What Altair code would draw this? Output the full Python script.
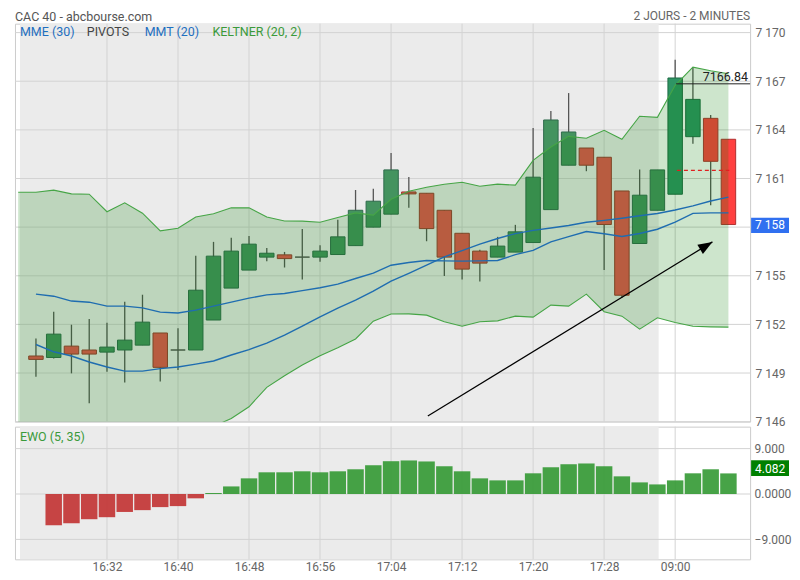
import altair as alt
import pandas as pd

# ---------------- texts ----------------
title_left = "CAC 40 - abcbourse.com"
title_right = "2 JOURS - 2 MINUTES"
legend_items = ["MME (30)", "PIVOTS", "MMT (20)", "KELTNER (20, 2)"]
ewo_title = "EWO (5, 35)"

# ---------------- axes ----------------
x_tick_idx = [4, 8, 12, 16, 20, 24, 28, 32, 36]
x_tick_labels = ["16:32", "16:40", "16:48", "16:56", "17:04", "17:12", "17:20", "17:28", "09:00"]
y_ticks = [7146, 7149, 7152, 7155, 7158, 7161, 7164, 7167, 7170]
ewo_ticks = [-9, 0, 9]

# ---------------- candles (2-minute) ----------------
candle_idx = list(range(40))
opens = [7150.05, 7149.96, 7150.66, 7150.42, 7150.29, 7150.42, 7150.72, 7151.47, 7150.42, 7150.42,
         7152.27, 7154.24, 7155.35, 7156.15, 7156.29, 7156.15, 7156.15, 7156.31, 7156.86, 7158.00,
         7158.80, 7160.17, 7160.09, 7159.04, 7157.62, 7156.52, 7156.15, 7156.46, 7157.05, 7159.08,
         7161.82, 7162.88, 7162.31, 7160.23, 7156.99, 7159.04, 7160.03, 7163.58, 7164.71, 7163.42]
highs = [7151.13, 7152.78, 7151.98, 7152.33, 7152.10, 7153.39, 7153.83, 7151.47, 7151.77, 7156.23,
         7157.09, 7157.34, 7157.46, 7156.72, 7156.47, 7157.89, 7156.89, 7158.45, 7160.29, 7160.36,
         7162.57, 7161.10, 7160.09, 7159.04, 7157.62, 7156.60, 7157.40, 7158.14, 7164.11, 7165.16,
         7166.27, 7162.88, 7162.31, 7160.23, 7161.55, 7161.53, 7168.32, 7167.87, 7164.92, 7163.42]
lows = [7148.77, 7149.90, 7148.98, 7147.13, 7149.08, 7148.42, 7150.72, 7148.48, 7149.18, 7150.42,
        7152.27, 7154.24, 7155.35, 7155.90, 7155.51, 7154.77, 7155.86, 7156.31, 7156.86, 7158.00,
        7158.80, 7159.20, 7157.13, 7154.98, 7154.77, 7154.65, 7156.15, 7156.46, 7157.05, 7159.08,
        7161.82, 7161.45, 7155.35, 7153.64, 7156.99, 7159.04, 7160.03, 7163.15, 7159.35, 7158.16]
closes = [7149.84, 7151.40, 7150.17, 7150.17, 7150.60, 7151.03, 7152.14, 7149.35, 7150.42, 7154.11,
          7156.21, 7156.52, 7156.95, 7156.39, 7156.06, 7156.15, 7156.52, 7157.40, 7159.04, 7159.60,
          7161.53, 7160.05, 7157.91, 7156.15, 7155.41, 7155.78, 7156.83, 7157.71, 7161.08, 7164.61,
          7163.87, 7161.82, 7158.16, 7153.80, 7159.97, 7161.53, 7167.20, 7165.88, 7162.06, 7158.16]
first_today = 36
prev_session_end = 35.07

# ---------------- moving averages ----------------
mme30 = [7153.87, 7153.74, 7153.44, 7153.37, 7153.13, 7153.13, 7153.02, 7152.76, 7152.70, 7152.88,
         7153.13, 7153.37, 7153.62, 7153.82, 7153.91, 7154.08, 7154.26, 7154.48, 7154.83, 7155.16,
         7155.65, 7155.82, 7155.94, 7155.92, 7155.90, 7155.92, 7155.94, 7156.30, 7156.57, 7157.09,
         7157.41, 7157.73, 7157.59, 7157.42, 7157.61, 7157.87, 7158.31, 7158.85, 7158.88, 7158.88]
mmt20 = [7150.76, 7150.31, 7150.05, 7149.68, 7149.37, 7149.12, 7149.12, 7149.27, 7149.37, 7149.55,
         7149.74, 7150.11, 7150.44, 7150.85, 7151.34, 7151.90, 7152.47, 7153.00, 7153.50, 7154.05,
         7154.67, 7155.15, 7155.65, 7156.17, 7156.55, 7156.95, 7157.30, 7157.60, 7157.80, 7157.95,
         7158.10, 7158.30, 7158.42, 7158.55, 7158.70, 7158.84, 7159.06, 7159.31, 7159.61, 7159.85]

# ---------------- Keltner (20, 2) ----------------
kelt_idx = list(range(-1, 40))
kelt_up = [7160.15, 7160.15, 7160.28, 7160.05, 7160.03, 7158.95, 7159.50, 7158.86, 7157.77, 7157.93,
           7158.63, 7158.82, 7159.19, 7159.19, 7158.63, 7158.38, 7158.37, 7158.30, 7158.59, 7158.88,
           7158.74, 7159.72, 7160.21, 7160.46, 7160.65, 7160.77, 7160.52, 7160.65, 7160.59, 7162.12,
           7162.94, 7163.60, 7163.48, 7163.97, 7163.42, 7164.84, 7164.77, 7166.75, 7167.87, 7167.65,
           7167.46]
kelt_lo = [7143.3, 7143.4, 7143.6, 7143.8, 7144.0, 7144.3, 7144.5, 7144.8, 7145.0, 7145.2,
           7145.4, 7145.7, 7146.2, 7146.92, 7148.12, 7148.83, 7149.49, 7150.07, 7150.56, 7151.10,
           7152.20, 7152.64, 7152.65, 7152.57, 7152.16, 7151.89, 7152.16, 7152.22, 7152.51, 7152.45,
           7153.19, 7153.13, 7153.87, 7152.78, 7152.51, 7151.71, 7152.41, 7152.12, 7151.89, 7151.85,
           7151.83]

# ---------------- annotations ----------------
ref_level = 7166.84
ref_start = 36.05
pivot_level = 7161.5
pivot_span = [36.1, 39.05]
arrow_x = [22.07, 38.1]
arrow_y = [7146.35, 7157.09]

# ---------------- EWO (5, 35) ----------------
ewo_idx = list(range(1, 40))
ewo = [-6.2, -5.8, -5.0, -4.6, -3.56, -3.2, -2.6, -2.4, -0.86, 0.2,
       1.5, 3.1, 4.3, 4.3, 4.5, 4.3, 4.5, 4.9, 5.7, 6.5,
       6.65, 6.45, 5.5, 4.5, 3.1, 2.7, 2.7, 4.1, 5.3, 5.9,
       6.05, 5.5, 3.5, 2.3, 1.9, 2.7, 4.1, 4.9, 4.082]

# ---------------- tables ----------------
def candle_colors(i, o, c):
    prev = i < first_today
    if c > o:
        return ("#44935f", "#2f6a4c") if prev else ("#2e9564", "#1f6a45")
    if c < o:
        return ("#e55450", "#9a3a30") if prev else ("#ff4040", "#b03030")
    return ("#555555", "#555555")

rows = []
for i, o, h, l, c in zip(candle_idx, opens, highs, lows, closes):
    f, s = candle_colors(i, o, c)
    rows.append({"i": i, "open": o, "high": h, "low": l, "close": c, "col": f, "scol": s})
cdf = pd.DataFrame(rows)
mdf = pd.DataFrame({"i": candle_idx, "m1": mme30, "m2": mmt20})
kdf = pd.DataFrame({"i": kelt_idx, "up": kelt_up, "lo": kelt_lo})
edf = pd.DataFrame({"i": ewo_idx, "v": ewo, "z": [0] * len(ewo),
                    "col": ["#339933" if v >= 0 else "#c23232" for v in ewo]})

W, H = 737, 399
EH = 133
FONT = "Roboto"
AX_FS = 12

last_close = closes[-1]
# the last-price badge replaces the axis label it sits on
y_label_vals = [v for v in y_ticks if abs(v - last_close) > 1]

xs = alt.Scale(domain=[-0.9, 39.94], nice=False, zero=False)
ys = alt.Scale(domain=[7146, 7170.55], nice=False, zero=False)
es = alt.Scale(domain=[-12.95, 13.35], nice=False, zero=False)

yax = alt.Axis(values=y_label_vals, orient="right", title=None, grid=False, ticks=False, domain=False,
               tickSize=0, labelPadding=5, labelFontSize=AX_FS, labelColor="#666", labelFont=FONT,
               labelExpr="replace(format(datum.value, ','), ',', ' ')")
eax = alt.Axis(values=ewo_ticks, orient="right", title=None, grid=False, ticks=False, domain=False,
               tickSize=0, labelPadding=4, labelFontSize=AX_FS, labelColor="#666", labelFont=FONT,
               labelExpr="datum.value == 0 ? '0.0000' : format(datum.value, '.3f')")
lab_arr = "[" + ",".join("'%s'" % s for s in x_tick_labels) + "]"
xax = alt.Axis(values=x_tick_idx, title=None, grid=False, ticks=False, domain=False, tickSize=0,
               labelPadding=2, labelFontSize=AX_FS, labelColor="#666", labelFont=FONT, labelFlush=False,
               labelExpr=lab_arr + "[datum.value / 4 - 1]")


def MX(f):
    return alt.X(f, type="quantitative", scale=xs, axis=None)


def MY(f):
    return alt.Y(f, type="quantitative", scale=ys, axis=yax)


def EX(f):
    return alt.X(f, type="quantitative", scale=xs, axis=xax)


def EY(f):
    return alt.Y(f, type="quantitative", scale=es, axis=eax)


def txt(s, **kw):
    return alt.Chart(pd.DataFrame({"t": [s]})).mark_text(font=FONT, **kw)


grid_col = "#d3d3d3"
bgdf = pd.DataFrame({"x0": [-0.9], "x1": [prev_session_end]})

# ---------------- main panel ----------------
bg = alt.Chart(bgdf).mark_rect(color="#ebebeb").encode(
    x=MX("x0"), x2="x1", y=alt.value(0), y2=alt.value(H))
vgrid = alt.Chart(pd.DataFrame({"t": x_tick_idx})).mark_rule(color=grid_col, strokeWidth=1).encode(
    x=MX("t"), y=alt.value(0), y2=alt.value(H))
hgrid = alt.Chart(pd.DataFrame({"v": y_ticks})).mark_rule(color=grid_col, strokeWidth=1).encode(
    y=MY("v"), x=alt.value(0), x2=alt.value(W))
wicks = alt.Chart(cdf).mark_rule(color="#555555", strokeWidth=1.3).encode(
    x=MX("i"), y=MY("low"), y2="high")
bodies = alt.Chart(cdf).mark_bar(size=14.5, strokeWidth=1).encode(
    x=MX("i"), y=MY("open"), y2="close",
    fill=alt.Fill("col:N", scale=None), stroke=alt.Stroke("scol:N", scale=None))
band = alt.Chart(kdf).mark_area(color="#057d00", opacity=0.2, clip=True).encode(
    x=MX("i"), y=MY("lo"), y2="up")
band_up = alt.Chart(kdf).mark_line(color="#46a546", strokeWidth=1.1, clip=True).encode(
    x=MX("i"), y=MY("up"))
band_lo = alt.Chart(kdf).mark_line(color="#46a546", strokeWidth=1.1, clip=True).encode(
    x=MX("i"), y=MY("lo"))
ma1 = alt.Chart(mdf).mark_line(color="#1f6db0", strokeWidth=1.4).encode(x=MX("i"), y=MY("m1"))
ma2 = alt.Chart(mdf).mark_line(color="#1f6db0", strokeWidth=1.4).encode(x=MX("i"), y=MY("m2"))
pdf = pd.DataFrame({"i": pivot_span, "v": [pivot_level] * 2})
pivot = alt.Chart(pdf).mark_line(color="#e02020", strokeDash=[4, 3], strokeWidth=1.3).encode(
    x=MX("i"), y=MY("v"))
rdf = pd.DataFrame({"x0": [ref_start], "v": [ref_level], "t": ["%.2f" % ref_level]})
ref_rule = alt.Chart(rdf).mark_rule(color="#222222", strokeWidth=1).encode(
    x=MX("x0"), x2=alt.value(W), y=MY("v"))
ref_text = alt.Chart(rdf).mark_text(font=FONT, fontSize=12.5, color="#222222", align="right",
                                    baseline="alphabetic", dy=-3).encode(
    x=alt.value(W - 2), y=MY("v"), text="t:N")
adf = pd.DataFrame({"i": arrow_x, "v": arrow_y})
arrow = alt.Chart(adf).mark_line(color="black", strokeWidth=1.2).encode(x=MX("i"), y=MY("v"))
head = alt.Chart(adf.tail(1)).mark_point(shape="M0,0L0.6,1.6L-0.6,1.6Z", size=324, filled=True,
                                         color="black", opacity=1, angle=59).encode(
    x=MX("i"), y=MY("v"))

leg_colors = ["#1f6fc0", "#444444", "#1f6fc0", "#3a9a3a"]
leg_x = [5, 72, 130, 198]
legends = [txt(s, fontSize=12.5, color=c, align="left", baseline="middle").encode(
    x=alt.value(x), y=alt.value(8), text="t:N") for s, c, x in zip(legend_items, leg_colors, leg_x)]

last_lbl = "{:,}".format(round(last_close)).replace(",", " ")
bdf = pd.DataFrame({"v": [last_close], "lo": [last_close - 0.52], "hi": [last_close + 0.42], "t": [last_lbl]})
box = alt.Chart(bdf).mark_rect(color="#3070f0").encode(
    x=alt.value(W + 1), x2=alt.value(W + 39), y=MY("lo"), y2="hi")
box_t = alt.Chart(bdf).mark_text(font=FONT, fontSize=AX_FS, color="white", align="left",
                                 baseline="middle").encode(x=alt.value(W + 5), y=MY("v"), text="t:N")

head_l = txt(title_left, fontSize=12.5, color="#555555", align="left", baseline="top").encode(
    x=alt.value(0), y=alt.value(-13), text="t:N")
head_r = txt(title_right, fontSize=12, color="#666666", align="right", baseline="top").encode(
    x=alt.value(W), y=alt.value(-13), text="t:N")

main = alt.layer(bg, vgrid, hgrid, wicks, bodies, band, band_up, band_lo, ma1, ma2, pivot,
                 ref_rule, ref_text, arrow, head, *legends, box, box_t, head_l, head_r
                 ).properties(width=W, height=H)

# ---------------- EWO panel ----------------
ebg = alt.Chart(bgdf).mark_rect(color="#ebebeb").encode(
    x=EX("x0"), x2="x1", y=alt.value(0), y2=alt.value(EH))
evgrid = alt.Chart(pd.DataFrame({"t": x_tick_idx})).mark_rule(color=grid_col, strokeWidth=1).encode(
    x=EX("t"), y=alt.value(0), y2=alt.value(EH))
ehgrid = alt.Chart(pd.DataFrame({"v": ewo_ticks})).mark_rule(color=grid_col, strokeWidth=1).encode(
    y=EY("v"), x=alt.value(0), x2=alt.value(W))
ebars = alt.Chart(edf).mark_bar(size=16.5, opacity=0.9).encode(
    x=EX("i"), y=EY("v"), y2="z", color=alt.Color("col:N", scale=None))
etitle = txt(ewo_title, fontSize=12.5, color="#3a9a3a", align="left", baseline="middle").encode(
    x=alt.value(5), y=alt.value(10), text="t:N")
ewo_last = ewo[-1]
ebdf = pd.DataFrame({"v": [ewo_last], "lo": [ewo_last - 0.53], "hi": [ewo_last + 2.63],
                     "t": ["%.3f" % ewo_last]})
ebox = alt.Chart(ebdf).mark_rect(color="#008000").encode(
    x=alt.value(W + 1), x2=alt.value(W + 39), y=EY("lo"), y2="hi")
ebox_t = alt.Chart(ebdf).mark_text(font=FONT, fontSize=AX_FS, color="white", align="left",
                                   baseline="alphabetic").encode(x=alt.value(W + 5), y=EY("v"), text="t:N")

ewo_panel = alt.layer(ebg, evgrid, ehgrid, ebars, etitle, ebox, ebox_t).properties(width=W, height=EH)

chart = alt.vconcat(main, ewo_panel, spacing=5, bounds="flush").properties(
    padding={"left": 6, "top": 0, "right": 0, "bottom": 0}
).configure_view(stroke="#cccccc", strokeWidth=1)

chart.save("out.html", embed_options={"renderer": "svg", "actions": False})
